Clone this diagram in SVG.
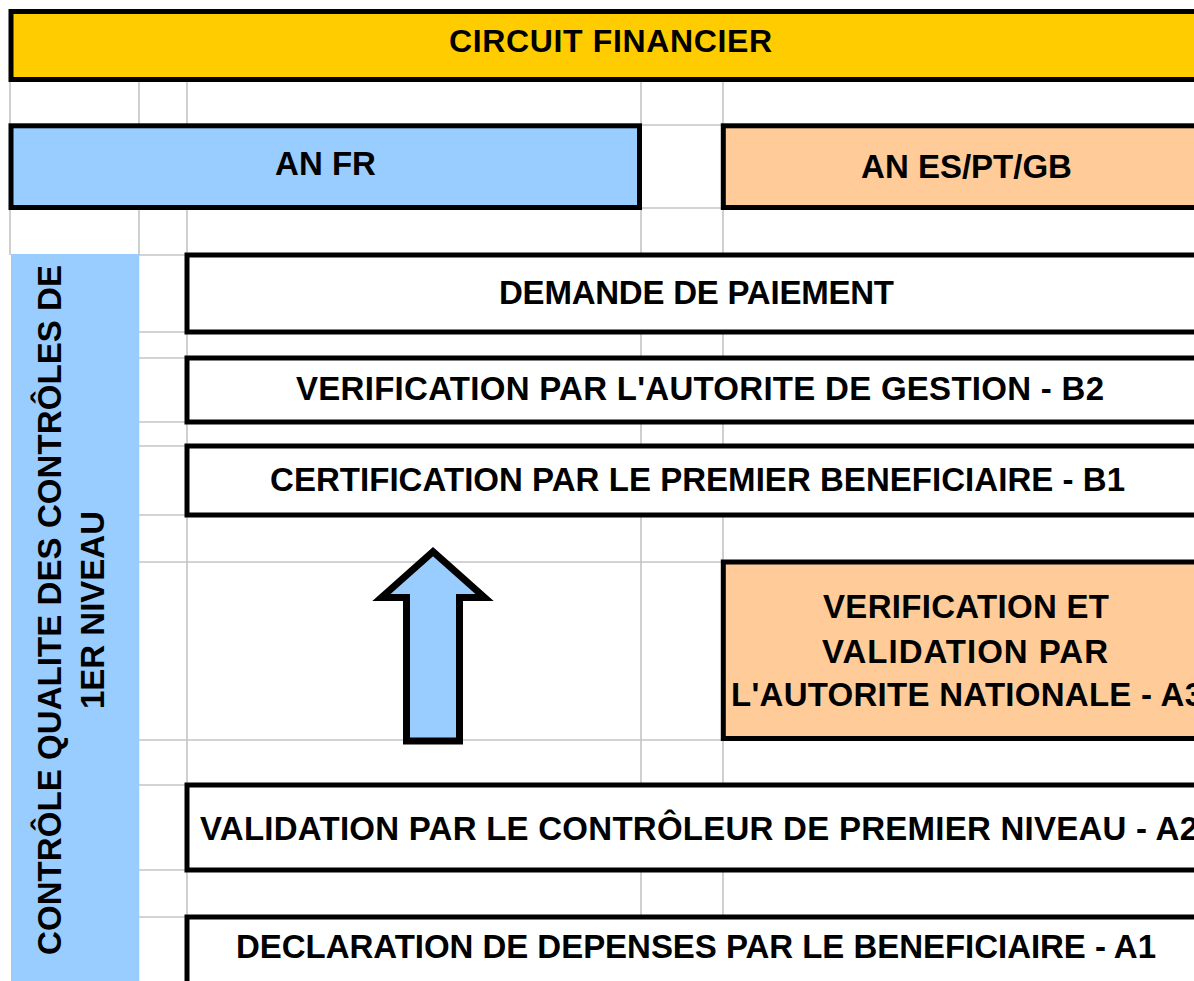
<svg xmlns="http://www.w3.org/2000/svg" width="1194" height="981" viewBox="0 0 1194 981">
  <style>
    .grid line { stroke: #c4c4c4; stroke-width: 1.6; }
    .box { stroke: #000; stroke-width: 5; }
    .white { fill: #ffffff; }
    .yellow { fill: #ffcc00; }
    .blue { fill: #99ccff; }
    .orange { fill: #ffcc99; }
    text { font-family: "Liberation Sans", Arial, sans-serif; font-weight: bold; fill: #000; }
    .t32 { font-size: 32px; }
    .t33 { font-size: 33px; }
    .mid { text-anchor: middle; }
  </style>

  <rect width="1194" height="981" fill="#ffffff"/>

  <!-- sheet gridlines visible between the framed cells -->
  <g id="gridlines" class="grid">
    <line x1="10" y1="80" x2="10" y2="125"/>
    <line x1="10" y1="208" x2="10" y2="255"/>
    <line x1="139" y1="80" x2="139" y2="125"/>
    <line x1="139" y1="208" x2="139" y2="255"/>
    <line x1="187" y1="80" x2="187" y2="125"/>
    <line x1="187" y1="208" x2="187" y2="255"/>
    <line x1="187" y1="332" x2="187" y2="358"/>
    <line x1="187" y1="422" x2="187" y2="446"/>
    <line x1="187" y1="515" x2="187" y2="785"/>
    <line x1="187" y1="870" x2="187" y2="917"/>
    <line x1="641" y1="80" x2="641" y2="125"/>
    <line x1="641" y1="208" x2="641" y2="255"/>
    <line x1="641" y1="332" x2="641" y2="358"/>
    <line x1="641" y1="422" x2="641" y2="446"/>
    <line x1="641" y1="515" x2="641" y2="785"/>
    <line x1="641" y1="870" x2="641" y2="917"/>
    <line x1="723" y1="80" x2="723" y2="125"/>
    <line x1="723" y1="208" x2="723" y2="255"/>
    <line x1="723" y1="332" x2="723" y2="358"/>
    <line x1="723" y1="422" x2="723" y2="446"/>
    <line x1="723" y1="515" x2="723" y2="562"/>
    <line x1="723" y1="740" x2="723" y2="785"/>
    <line x1="723" y1="870" x2="723" y2="917"/>
    <line x1="641" y1="125" x2="723" y2="125"/>
    <line x1="641" y1="208" x2="723" y2="208"/>
    <line x1="139" y1="255" x2="187" y2="255"/>
    <line x1="139" y1="332" x2="187" y2="332"/>
    <line x1="139" y1="358" x2="187" y2="358"/>
    <line x1="139" y1="422" x2="187" y2="422"/>
    <line x1="139" y1="446" x2="187" y2="446"/>
    <line x1="139" y1="515" x2="187" y2="515"/>
    <line x1="139" y1="562" x2="723" y2="562"/>
    <line x1="139" y1="740" x2="723" y2="740"/>
    <line x1="139" y1="785" x2="187" y2="785"/>
    <line x1="139" y1="870" x2="187" y2="870"/>
    <line x1="139" y1="917" x2="187" y2="917"/>
  </g>

  <g id="title">
    <rect class="box yellow" x="11" y="11.5" width="1210" height="68"/>
    <text class="t32 mid" x="610.5" y="52" textLength="323" lengthAdjust="spacing">CIRCUIT FINANCIER</text>
  </g>

  <g id="an-fr">
    <rect class="box blue" x="11" y="125.8" width="628.5" height="81.7"/>
    <text class="t33 mid" x="325.5" y="175">AN FR</text>
  </g>

  <g id="an-es-pt-gb">
    <rect class="box orange" x="723.3" y="125.8" width="500" height="81.7"/>
    <text class="t33 mid" x="966.5" y="178">AN ES/PT/GB</text>
  </g>

  <g id="controle-qualite">
    <rect class="blue" x="11" y="254" width="128.3" height="740"/>
    <text class="t33 mid" transform="translate(61,610) rotate(-90)" textLength="690" lengthAdjust="spacing">CONTRÔLE QUALITE DES CONTRÔLES DE</text>
    <text class="t33 mid" transform="translate(104,610) rotate(-90)">1ER NIVEAU</text>
  </g>

  <g id="demande-paiement">
    <rect class="box white" x="187" y="255" width="1030" height="77"/>
    <text class="t33 mid" x="696.5" y="304" textLength="395" lengthAdjust="spacing">DEMANDE DE PAIEMENT</text>
  </g>

  <g id="verification-b2">
    <rect class="box white" x="187" y="358" width="1030" height="64"/>
    <text class="t33 mid" x="700" y="400" textLength="808" lengthAdjust="spacing">VERIFICATION PAR L'AUTORITE DE GESTION - B2</text>
  </g>

  <g id="certification-b1">
    <rect class="box white" x="187" y="446" width="1030" height="69"/>
    <text class="t33 mid" x="697.5" y="491" textLength="855" lengthAdjust="spacing">CERTIFICATION PAR LE PREMIER BENEFICIAIRE - B1</text>
  </g>

  <g id="verification-a3">
    <rect class="box orange" x="723.3" y="562" width="500" height="176.5"/>
    <text class="t33 mid" x="966" y="618" textLength="286" lengthAdjust="spacing">VERIFICATION ET</text>
    <text class="t33 mid" x="965" y="663" textLength="286" lengthAdjust="spacing">VALIDATION PAR</text>
    <text class="t33" x="731" y="706" textLength="472" lengthAdjust="spacing">L'AUTORITE NATIONALE - A3</text>
  </g>

  <g id="validation-a2">
    <rect class="box white" x="187" y="785" width="1030" height="85"/>
    <text class="t33" x="200" y="840" textLength="998" lengthAdjust="spacing">VALIDATION PAR LE CONTRÔLEUR DE PREMIER NIVEAU - A2</text>
  </g>

  <g id="declaration-a1">
    <rect class="box white" x="187" y="917" width="1030" height="80"/>
    <text class="t33 mid" x="696" y="958" textLength="920" lengthAdjust="spacing">DECLARATION DE DEPENSES PAR LE BENEFICIAIRE - A1</text>
  </g>

  <!-- upward flow arrow -->
  <g id="connectors">
    <polygon points="433,551.7 484.5,597.5 459.5,597.5 459.5,741 406.5,741 406.5,597.5 381.5,597.5"
             fill="#99ccff" stroke="#000" stroke-width="7" stroke-linejoin="miter"/>
  </g>
</svg>
